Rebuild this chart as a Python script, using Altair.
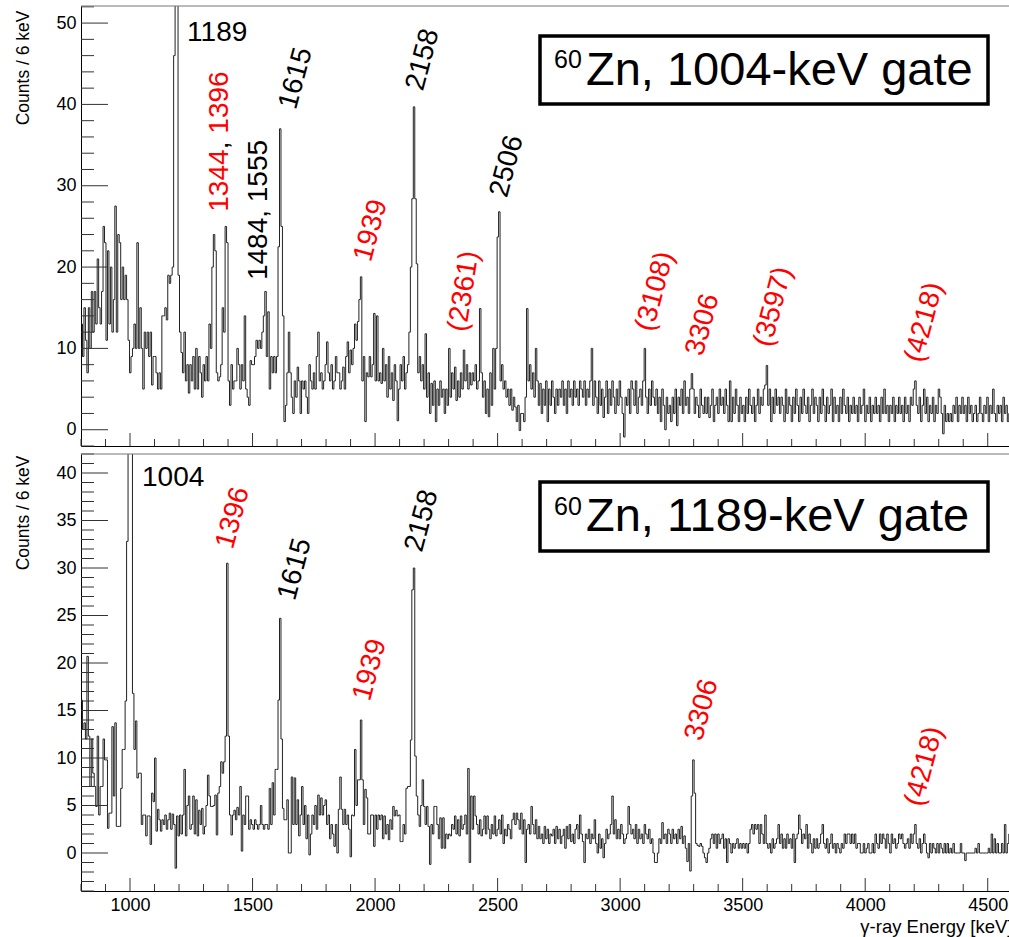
import altair as alt
import pandas as pd

# ---------------- data ----------------
E_START = 800          # keV, left edge of first bin
BIN_WIDTH = 6          # keV per bin
X_MAX = 4586.8         # right edge visible in the page (frame continues to 4600 beyond)

# 1004-keV gate, counts per 6-keV bin starting at 800 keV (25 bins = 150 keV per row)
top_rows = [
    [13, 9, 15, 11, 7, 15, 10, 17, 12, 17, 13, 21, 15, 13, 17, 25, 23, 11, 22, 13, 20, 12, 16, 27.5, 12],
    [24, 23, 16, 20, 16, 19, 16, 11, 7, 9, 10, 13, 10, 23, 10, 15, 10, 5, 12, 10, 12, 9, 12, 5.5, 9],
    [9, 7, 5, 7, 5, 14, 14, 15, 13.5, 19, 18, 19, 20, 46, 95, 80, 19, 12, 9.5, 7, 12, 6, 8, 4.5, 8],
    [6, 9, 5, 10, 5, 9, 7, 4, 8, 6, 9, 6, 13, 10, 20, 24, 22, 7, 6, 6.5, 8, 15, 12, 25, 23],
    [6, 3, 8, 5, 6, 6, 10, 8, 5, 8, 6, 14, 5, 4, 3, 8.5, 8, 8, 9, 11, 10, 11, 10, 12, 14],
    [17, 9, 14.5, 5, 9, 7, 9, 7, 9, 22.5, 37, 25, 14, 1, 3, 7, 12, 7, 4, 2, 6, 4, 7.7, 6, 2],
    [6, 5, 6, 4, 2, 8, 6, 5, 7, 5, 9, 12, 6, 7, 5, 6, 8, 10.8, 7, 6, 8, 5, 6, 9, 7],
    [7, 5, 6, 7.7, 5, 9, 10.8, 7, 9.8, 8, 10, 13, 11, 13.3, 16, 18.8, 6, 9, 1, 7, 6.5, 9, 6.5, 8, 14.3],
    [6, 14, 6, 7, 5.7, 10, 6, 8, 4, 9, 5, 7, 3.6, 8, 6, 1.1, 5, 8, 6, 9, 5, 7, 8, 12, 20],
    [28.4, 39.7, 28.4, 20.4, 7, 9, 6, 8, 5, 11.8, 4, 7, 2, 5.7, 3, 6, 1, 5, 3, 6, 4, 5, 2, 5, 3],
    [10, 4, 7, 5, 7.7, 3.6, 6, 4, 7, 5, 9.8, 6, 8, 5, 7, 5.5, 7, 6, 8, 5, 6, 14.9, 7, 4, 6],
    [2, 5, 1.6, 7, 3, 10, 5, 10, 23.7, 26.8, 6, 8, 5, 6, 4, 5, 3, 5, 2.4, 4, 2.8, 1, 3, -0.1, 2],
    [2, 1, 4, 14.9, 6, 8, 5, 7, 4, 10, 6, 3, 5.7, 2, 5, 3, 6, 1, 5, 3, 6, 4, 2, 5, 3],
    [5, 4, 6, 3, 5, 2, 6, 4, 5, 3, 6, 4, 5, 3, 6, 5, 4, 6, 3, 5, 4, 6, 10, 3, 6],
    [4, 2, 6, 3, 5, 1.5, 4, 6, 2, 5, 3, 6, 4, 2, 5, 3, 6, 4, 2, -0.9, 4, 3, 5, 2, 6],
    [5, 3, 6, 2, 4, 5, 3, 6, 10, 4, 2, 5, 3, 6, 4, 3, 5, 2, 4, 1, 5, 3, 0, 4, 2],
    [3, 1, 4, 2, 5, 0.5, 4, 3, 5, 2, 6, 3, 4, 2, 5, 6.9, 5, 2, 4, 3, 1.5, 5, 3, 2, 4],
    [2, 4, 1.5, 3, 5, 1, 3, 4, 2, 5, 3, 4, 2, 5, 3, 1, 6, 1, 4, 2, 5, 3, 1, 4, 2],
    [3, 1, 4, 2, 5, 3, 2, 4, 1, 3, 5, 2, 4, 3, 5, 5.5, 7.9, 3, 5, 1, 4, 2, 5, 3, 4],
    [2, 4, 3, 1, 5, 2, 4, 3, 1, 4, 2, 5, 3, 1, 4, 2, 5, 3, 2, 4, 1, 3, 5, 2, 4],
    [3, 1, 4, 2, 5, 3, 1, 4, 2, 3, 5, 1, 4, 2, 3, 1, 4, 2, 5, 3, 2, 4, 1, 3, 2],
    [4, 2, 3, 1, 4, 2, 3, 5, 1, 3, 2, 4, 1, 3, 2, 4, 2, 3, 1, 4, 2, 5, 2, 3, 1],
    [3, 2, 4, 1, 3, 2, 4, 2, 3, 1, 4, 2, 3, 1, 4, 3, 5, 6, 3, 2, 4, 1, 3, 5, 2],
    [4, 1, 3, 2, 4, 1, 3, 2, 5, 4, 2, -0.5, 3, 1, 2, 1, 2, 1, 3, 2, 4, 1, 3, 2, 4],
    [2, 3, 1, 4, 2, 3, 1, 2, 3, 1, 2, 4, 2, 1, 3, 2, 4, 1, 3, 2, 5, 2, 1, 3, 2],
    [3, 1, 4, 2, 3, 1, 2, 3, 2],
]

# 1189-keV gate
bottom_rows = [
    [16.1, 13, 13.7, 12, 20.7, 12.3, 7, 12, 8.4, 7, 4.9, 12.3, 4, 7, 7, 12, 9.8, 9.8, 2.6, 4.2, 4.2, 13.3, 6, 13.7, 2.8],
    [2.8, 2.8, 6.8, 10.9, 10.9, 16, 32.8, 70, 90, 60, 16.8, 10.9, 13.9, 7.9, 8.4, 8.4, 3, 4, 4, 1.8, 3.9, 3.9, 0.9, 6.3, 5.4],
    [10, 2.3, 4.6, 3.5, 2.3, 3.5, 3, 4, 2.5, 3.5, 4.2, 2.5, 4.1, 3, -1.6, 3.9, 1.8, 4, 2, 4, 8.8, 1.8, 5, 6, 2.5],
    [3, 6, 2, 5.6, 1.8, 4.5, 3, 4.7, 2, 2.8, 5, 8.2, 6, 4.9, 4.9, 5, 6.1, 1.9, 6.3, 7, 9.6, 8.4, 9.6, 12.3, 30.5],
    [12.3, 4, 1.9, 4, 4.5, 3.5, 4.8, 4, 7, 0.2, 4, 3, 6, 6, 2.5, 3.5, 3, 2.5, 3.5, 3, 2.5, 3, 5, 3, 2.5],
    [3, 3, 2.5, 6.8, 3, 7.4, 4, 8.8, 8.8, 16.1, 24.7, 12, 4.7, 3.5, 3.5, 5.6, 0, 0, 8, 3, 7.9, 3, 5.6, 1.8, 4],
    [7, 3, 5, 1.5, 4, -0.2, 2, 4, 3, 5, 2.5, 6.1, 4, 5.8, 4, 5, 5.6, 3, 4, 1.5, 3, 2, 0.7, 3, 0],
    [4.6, 8, 4.6, 3, 4.6, 3, 4, 2.5, -0.4, 4, 3.9, 10.9, 5, 7.7, 7.7, 14, 7.7, 3, 6.7, 5.8, 2, 2, 4, 4, 0.7],
    [4, 2.5, 4, 3.5, 4, 1.5, 3.9, 2, 3, 1.4, 3.5, 2.5, 4.9, 3.9, 4.5, 3.9, 4, 1.2, 1.2, 3, 2, 6.8, 7, 7, 11.9],
    [27.7, 30, 10.2, 6, 4, 2.8, 5, 7.7, 4.9, 3, 4.9, 2.8, -1.2, 3, 2, 4.9, 4.9, 3, 1.5, 3.7, 0.5, 3.7, 0.5, 2, 1.5],
    [2, 1.8, 3, 2.5, 3.9, 2, 3.5, 1.8, 3.9, 2.5, 3, 4, 2, 8.9, -1, 6, 2.5, 6, 3.9, 3, 2, 3.5, 1.8, 2.5, 3.9],
    [2, 3.9, 2.5, 1.5, 3, 2, 3.9, 1.8, 2.5, 3.5, 2, 4, 1, 2.5, 1.8, 3, 2.5, 1.5, 3.5, 4.2, 3, 4.2, 3.5, 2.5, 4.2],
    [2, 3.5, -1, 2.5, 3, 2, 4.9, 3, 2, 3.5, 1.5, 2.8, 1.5, 2, 1, 2.8, 1.5, 2.5, 1, 2, 1.8, 2.5, 1, 2.8, 1.5],
    [2.5, 1, 1.8, 2.5, 0.5, 2.8, 1.5, 3, 1.2, 2, 1, 2.5, 3, 1.5, 4, 2, 1.2, -1, 2, 1.5, 2.5, 1, 2, 1.5, 3.5],
    [1, 0, 2, 0.5, 1.5, -0.5, 1, 2.5, 1.5, 2, 3, 6, 2, 3.5, 1.5, 2.5, 1.5, 3, 2, 1, 1.5, 2, 4.9, 3, 2],
    [2.5, 1.5, 3, 1, 2.5, 1.5, 2, 1, 3, 2, 1.5, 2.5, 1, 1.5, 0, -1, -1, 0, 1.5, 1, 3.2, 1.5, 2, 1, 2.5],
    [2, 1, 2.5, 1.5, 2, 1, 2.5, 1.5, 2.8, 1, 1.8, 0.5, -0.9, 1, -1.9, 6, 9.8, 6.3, 1, 0.8, 0.7, 1, 0.7, 0, -0.5],
    [-1, 0, 0.5, 1.5, 2, 1, 2, 0.5, 2, 1, 1.5, 2, 0.5, 1.5, -1, 1.5, 1, 0, 1, 0.5, 1, 1.5, 0.5, 1, 0.5],
    [1, 0.5, 1, 0, 1, 2.5, 3, 2, 3, 2.5, 3, 1, 3, 2, 1, 4, 1, 0.5, 1, 0, 1.5, 0.5, 1, 1.5, 3],
    [1, 2, 0.5, 1.5, 0.5, 2, 1, 1.5, 0.5, 2, -1, 1.5, 2, 4, 2.5, 1, 2, 1.5, 3, 0.5, 2, 1, 0, 1.5, 0.5],
    [1.5, 0.5, 1, 2, 3, 1, 0.5, 1.5, 0, 1, 2, 0.5, 1, 0, 1, 0.5, 0, 1, 0.5, 2, 1, 2, 2, 1, 2],
    [1, 2, 0.5, 1, 1, 0, 0, 1, 0, 0.5, 1, 0, 0, 1, 0, 2, 1, 0.5, 2, 1, 2, 1.5, 0.5, 2, 1],
    [0, 2, 1, 1.5, 0.5, 1, 2, 1.5, 2, 1, 0.5, 1, 1.5, 0.5, 2, 1, 2, 3, 1, 0.5, 1.5, 0, 1, 2, 1],
    [0, -0.5, 1, 0, 1, 0.5, 0, 1, 0, 1, 0.5, 0, 1, 0, 1, 0, 0.5, 0, 1, 0, 0, 0, 0, 1, 0],
    [0, -0.8, 0, 0, 0, 0, 0, 0, 0.5, 0, 1, 0, 0, 0, 0, 0, 0, 0.5, 0, 2, 0, 1.5, 0, 1, 0],
    [0, 1, 0, 3, 0, 1, 2, 0, 3],
]

# axis tick values
x_major = [1000, 1500, 2000, 2500, 3000, 3500, 4000, 4500]
x_minor = [e for e in range(800, 4600, 100) if e % 500 != 0]
top_y_major = [0, 10, 20, 30, 40, 50]
top_y_minor = [v for v in range(-2, 53, 2) if v % 10 != 0]
bot_y_major = [0, 5, 10, 15, 20, 25, 30, 35, 40]
bot_y_minor = [v for v in range(-4, 43) if v % 5 != 0]

# peak labels (energy, counts anchor)
top_flat_text = ["1189"]
top_flat_E = [1233]
top_flat_v = [47.8]

top_tilt_text = ["1615", "2158", "2506", "1939", "(2361)", "(3108)", "3306", "(3597)", "(4218)"]
top_tilt_E = [1645, 2163, 2506, 1951, 2338, 3101, 3305, 3583, 4199]
top_tilt_v = [39.5, 41.8, 28.7, 20.8, 12.1, 12.2, 9.2, 10.3, 8.4]
top_tilt_col = ["black", "black", "black", "red", "red", "red", "red", "red", "red"]
top_tilt_ang = [285, 285, 285, 285, 279, 285, 285, 285, 285]

top_vert_text = ["1344", ",", "1396", "1484, 1555"]
top_vert_E = [1401, 1401, 1401, 1558]
top_vert_v = [26.8, 34.5, 36.4, 18.4]
top_vert_col = ["red", "black", "red", "black"]

bot_flat_text = ["1004"]
bot_flat_E = [1049]
bot_flat_v = [38.6]

bot_tilt_text = ["1396", "1615", "1939", "2158", "3306", "(4218)"]
bot_tilt_E = [1388, 1641, 1947, 2159, 3301, 4199]
bot_tilt_v = [32.1, 26.7, 16.1, 31.8, 11.9, 5.0]
bot_tilt_col = ["red", "black", "red", "black", "red", "red"]
bot_tilt_ang = [285, 285, 285, 285, 285, 285]

gate_text = ["Zn, 1004-keV gate", "Zn, 1189-keV gate"]
FONT = "Liberation Sans"
W = 928
LEFT = 81          # room left of the plot for the y axis
RIGHT_EXT = 942    # extent used for layout on the right (clipped by page)


def flatten(rows):
    return [v for r in rows for v in r]


def hist_df(counts):
    E = [E_START + BIN_WIDTH * i for i in range(len(counts) + 1)]
    v = counts + [counts[-1]]
    return pd.DataFrame({"E": E, "v": v})


def panel(counts, ydom, height, ymaj, ymin, flat, tilt, vert, gate, bottom, ytitle_y, box_y, sup_y, gate_y,
          anchor_y):
    xs = alt.Scale(domain=[E_START, X_MAX], nice=False, zero=False)
    ys = alt.Scale(domain=ydom, nice=False, zero=False)

    if bottom:
        xaxis = alt.Axis(values=x_major, format="d", ticks=False, tickSize=0, grid=False, labelFontSize=18,
                         labelFont=FONT, labelColor="black", labelPadding=5, labelFlush=False,
                         labelOverlap=False,
                         domainColor="black", title="γ-ray Energy [keV]", titleFont=FONT,
                         titleFontSize=18.5, titleFontWeight="normal", titleColor="black",
                         titleX=931, titleY=41, titleAlign="right", titleBaseline="alphabetic")
    else:
        xaxis = alt.Axis(values=x_major, labels=False, ticks=False, tickSize=0, grid=False,
                         domainColor="black", title="")
    yaxis = alt.Axis(values=ymaj, format="d", ticks=False, tickSize=0, grid=False, labelFontSize=18,
                     labelFont=FONT, labelColor="black", labelPadding=5, domainColor="black",
                     title="Counts / 6 keV", titleFont=FONT, titleFontSize=17.5,
                     titleFontWeight="normal", titleColor="black", titleAngle=270,
                     titleAlign="right", titleBaseline="alphabetic", titleX=-53, titleY=ytitle_y)

    def X():
        return alt.X("E:Q", scale=xs, axis=xaxis)

    def Y():
        return alt.Y("v:Q", scale=ys, axis=yaxis)

    hist = alt.Chart(hist_df(counts)).mark_line(
        interpolate="step-after", clip=True, color="#222222", strokeWidth=1
    ).encode(x=X(), y=Y())

    layers = [hist]
    tick_col = "#333333"
    for vals, ln in ((x_major, 13), (x_minor, 7)):
        layers.append(alt.Chart(pd.DataFrame({"E": vals})).mark_rule(color=tick_col, strokeWidth=1).encode(
            x=X(), y=alt.value(height), y2=alt.value(height - ln)))
    for vals, ln in ((ymaj, 27), (ymin, 13)):
        layers.append(alt.Chart(pd.DataFrame({"v": vals})).mark_rule(color=tick_col, strokeWidth=1).encode(
            y=Y(), x=alt.value(0), x2=alt.value(ln)))
    # top frame line
    layers.append(alt.Chart(pd.DataFrame({"a": [0]})).mark_rule(color="#777777", strokeWidth=1).encode(
        x=alt.value(0), x2=alt.value(W), y=alt.value(0)))
    # invisible layout anchor fixing the page extent
    layers.append(alt.Chart(pd.DataFrame({"a": [0]})).mark_rule(opacity=0, strokeWidth=0).encode(
        x=alt.value(-LEFT), x2=alt.value(RIGHT_EXT), y=alt.value(anchor_y)))

    ftext, fE, fv = flat
    layers.append(alt.Chart(pd.DataFrame({"t": ftext, "E": fE, "v": fv})).mark_text(
        align="left", baseline="alphabetic", font=FONT, fontSize=28, color="black").encode(
        x=X(), y=Y(), text="t:N"))

    ttext, tE, tv, tcol, tang = tilt
    layers.append(alt.Chart(pd.DataFrame({"t": ttext, "E": tE, "v": tv, "c": tcol, "a": tang})).mark_text(
        align="left", baseline="middle", font=FONT, fontSize=28).encode(
        x=X(), y=Y(), text="t:N",
        color=alt.Color("c:N", scale=None), angle=alt.Angle("a:Q", scale=None)))

    if vert is not None:
        vtext, vE, vv, vcol = vert
        layers.append(alt.Chart(pd.DataFrame({"t": vtext, "E": vE, "v": vv, "c": vcol})).mark_text(
            align="left", baseline="alphabetic", font=FONT, fontSize=28, angle=270).encode(
            x=X(), y=Y(), text="t:N",
            color=alt.Color("c:N", scale=None)))

    # legend box
    layers.append(alt.Chart(pd.DataFrame({"a": [0]})).mark_rect(
        fill="white", stroke="black", strokeWidth=3.5).encode(
        x=alt.value(459), x2=alt.value(907), y=alt.value(box_y[0]), y2=alt.value(box_y[1])))
    layers.append(alt.Chart(pd.DataFrame({"t": ["60"]})).mark_text(
        align="left", baseline="alphabetic", font=FONT, fontSize=25, color="black").encode(
        x=alt.value(473), y=alt.value(sup_y), text="t:N"))
    layers.append(alt.Chart(pd.DataFrame({"t": [gate]})).mark_text(
        align="left", baseline="alphabetic", font=FONT, fontSize=47, color="black").encode(
        x=alt.value(505), y=alt.value(gate_y), text="t:N"))

    return alt.layer(*layers).properties(width=W, height=height)


top = panel(flatten(top_rows), [-2.0, 52.1], 440, top_y_major, top_y_minor,
            (top_flat_text, top_flat_E, top_flat_v),
            (top_tilt_text, top_tilt_E, top_tilt_v, top_tilt_col, top_tilt_ang),
            (top_vert_text, top_vert_E, top_vert_v, top_vert_col),
            gate_text[0], False, 4, (30, 98), 62, 79, -6)

bottom = panel(flatten(bottom_rows), [-4.0, 42.0], 437, bot_y_major, bot_y_minor,
               (bot_flat_text, bot_flat_E, bot_flat_v),
               (bot_tilt_text, bot_tilt_E, bot_tilt_v, bot_tilt_col, bot_tilt_ang),
               None, gate_text[1], True, 1, (28, 97), 61, 77, 437 + 46)

chart = alt.vconcat(top, bottom, spacing=8, bounds="flush").properties(
    autosize=alt.AutoSizeParams(type="pad"),
    padding={"left": 0, "top": 0, "right": 1009 - LEFT - RIGHT_EXT, "bottom": 0},
    background="white",
).configure_view(stroke=None)

chart.save("out.html", embed_options={"renderer": "svg", "actions": False})
